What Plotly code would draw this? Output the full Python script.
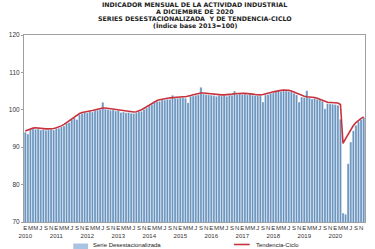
import plotly.graph_objects as go

years = [str(y) for y in range(2010, 2021)]
month_letters = ["E", "F", "M", "A", "M", "J", "J", "A", "S", "O", "N", "D"]

trend = [
    94.3, 94.6, 94.9, 95.1, 95.2, 95.1, 95.0, 94.9, 94.9, 94.9, 94.9, 95.0,
    95.2, 95.4, 95.7, 96.1, 96.6, 97.1, 97.6, 98.1, 98.6, 99.0, 99.3, 99.5,
    99.6, 99.7, 99.8, 100.0, 100.2, 100.4, 100.5, 100.5, 100.4, 100.3, 100.2, 100.1,
    99.9, 99.8, 99.7, 99.6, 99.5, 99.4, 99.4, 99.5, 99.7, 100.0, 100.4, 100.8,
    101.3, 101.8, 102.2, 102.5, 102.7, 102.9, 103.0, 103.1, 103.2, 103.3, 103.4, 103.5,
    103.5, 103.5, 103.5, 103.6, 103.8, 104.0, 104.2, 104.4, 104.5, 104.5, 104.4, 104.3,
    104.2, 104.1, 104.0, 104.0, 104.0, 104.0, 104.0, 104.1, 104.2, 104.3, 104.4, 104.4,
    104.4, 104.4, 104.4, 104.3, 104.2, 104.1, 104.0, 104.0, 104.1, 104.2, 104.4, 104.6,
    104.8, 105.0, 105.1, 105.2, 105.3, 105.3, 105.2, 105.0, 104.7, 104.3, 104.0, 103.7,
    103.6, 103.5, 103.5, 103.4, 103.3, 103.1, 102.9, 102.6, 102.3, 102.0, 101.9, 101.8,
    101.8, 101.8, 101.4, 91.0, 92.3, 93.6, 94.8, 95.8, 96.6, 97.2, 97.7, 98.1,
]

desest = [
    94.0, 93.5, 94.6, 94.9, 94.8, 94.9, 94.6, 94.7, 94.5, 94.6, 94.8, 94.6,
    95.0, 95.1, 95.4, 95.7, 96.4, 96.6, 97.4, 97.8, 97.4, 98.7, 99.0, 99.3,
    99.2, 99.5, 99.4, 99.8, 99.9, 100.1, 102.0, 100.2, 100.1, 99.9, 100.0, 99.7,
    99.8, 99.3, 99.4, 99.2, 99.3, 99.1, 99.0, 99.2, 99.5, 99.6, 100.1, 100.5,
    101.0, 101.4, 101.9, 102.2, 102.3, 102.7, 102.6, 102.8, 102.8, 103.9, 103.1, 103.1,
    103.2, 103.3, 103.1, 101.9, 103.6, 103.7, 103.9, 104.0, 106.0, 104.2, 104.1, 104.0,
    103.9, 103.8, 103.6, 103.8, 103.7, 103.8, 103.6, 103.9, 103.9, 105.0, 104.1, 104.2,
    104.1, 104.2, 104.0, 104.1, 103.9, 103.8, 103.8, 103.7, 102.1, 104.0, 104.1, 104.4,
    104.5, 104.8, 104.9, 104.9, 105.1, 105.0, 104.9, 104.8, 104.4, 104.0, 102.1, 103.4,
    103.3, 105.1, 103.2, 102.9, 103.1, 102.8, 102.6, 102.3, 100.3, 101.7, 101.6, 101.5,
    101.4, 101.2, 97.5, 72.4, 72.1, 85.6, 91.4, 94.4, 95.9, 96.8, 97.4, 98.0,
]

title_lines = [
    "INDICADOR MENSUAL DE LA ACTIVIDAD INDUSTRIAL",
    "A DICIEMBRE DE 2020",
    "SERIES DESESTACIONALIZADA  Y DE TENDENCIA-CICLO",
    "(Índice base 2013=100)",
]
legend_names = ["Serie Desestacionalizada", "Tendencia-Ciclo"]

n = len(trend)
x_idx = list(range(n))

tickvals = []
ticktext = []
for i in range(n):
    m = i % 12
    if m % 2 == 0:
        tickvals.append(i)
        lab = month_letters[m]
        if m == 0:
            lab = lab + "<br>" + years[i // 12]
        ticktext.append(lab)

W, H = 375, 249
L, R, T, B = 20, 9, 35, 27
plot_top, plot_bot = T, H - B
plot_left, plot_right = L, W - R


def py(p):
    return (plot_bot - p) / (plot_bot - plot_top)


def px(p):
    return (p - plot_left) / (plot_right - plot_left)


fig = go.Figure()
fig.add_trace(go.Bar(
    x=x_idx, y=desest, name=legend_names[0], showlegend=False,
    marker=dict(color="#6893bf", line=dict(color="#ffffff", width=0.4)),
))
fig.add_trace(go.Scatter(
    x=x_idx, y=trend, name=legend_names[1], mode="lines", showlegend=False,
    line=dict(color="#c8323c", width=1.6),
))

title_y = [4.9, 11.6, 18.3, 25.0]
for t, yy in zip(title_lines, title_y):
    fig.add_annotation(
        text="<b>" + t + "</b>", x=0.5, xref="paper", xanchor="center",
        y=py(yy), yref="paper", yanchor="middle", showarrow=False,
        font=dict(family="DejaVu Sans", size=6.3, color="#222"),
    )

# legend drawn at the bottom edge, like the reference
fig.add_shape(type="rect", xref="paper", yref="paper",
              x0=px(70), x1=px(85), y0=py(243.5), y1=py(251),
              fillcolor="#a9c4e2", line=dict(width=0))
fig.add_annotation(text=legend_names[0], x=px(88), xref="paper", xanchor="left",
                   y=py(240.3), yref="paper", yanchor="top", showarrow=False,
                   font=dict(family="Liberation Sans, Arial", size=6.0, color="#222"))
fig.add_shape(type="line", xref="paper", yref="paper",
              x0=px(233), x1=px(249), y0=py(244.5), y1=py(244.5),
              line=dict(color="#c8323c", width=1.6))
fig.add_annotation(text=legend_names[1], x=px(253), xref="paper", xanchor="left",
                   y=py(240.3), yref="paper", yanchor="top", showarrow=False,
                   font=dict(family="Liberation Sans, Arial", size=6.0, color="#222"))

fig.update_layout(
    width=W, height=H,
    margin=dict(l=L, r=R, t=T, b=B),
    paper_bgcolor="white", plot_bgcolor="white",
    bargap=0.12,
    showlegend=False,
    font=dict(family="Liberation Sans, Arial", size=6.5, color="#333"),
)
fig.update_xaxes(
    range=[-0.5, n - 0.5], tickvals=tickvals, ticktext=ticktext, tickangle=0,
    showline=True, linecolor="#a0a0a0", linewidth=1, mirror=True,
    ticks="", showgrid=False, zeroline=False,
    tickfont=dict(family="Liberation Sans, Arial", size=6, color="#333"),
)
fig.update_yaxes(
    range=[70, 120], tickvals=[70, 80, 90, 100, 110, 120],
    showline=True, linecolor="#a0a0a0", linewidth=1, mirror=True,
    ticks="outside", ticklen=2, tickcolor="#a0a0a0", showgrid=False, zeroline=False,
    tickfont=dict(family="Liberation Sans, Arial", size=6.5, color="#333"),
)

fig.write_html("out.html")
